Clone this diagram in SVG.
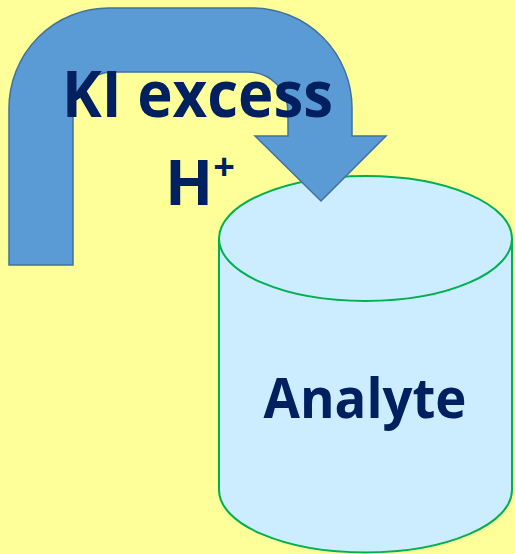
<svg xmlns="http://www.w3.org/2000/svg" width="515" height="554" viewBox="0 0 515 554">
<style>
.lbl{font-family:"Open Sans","Liberation Sans",sans-serif;font-weight:bold;fill:#002060}
</style>
<rect x="0" y="0" width="515" height="554" fill="#FFFF99"/>
<g id="analyte">
<path d="M219,238.5 L219,490 A146.5,62.5 0 0 0 512,490 L512,238.5" fill="#CCECFF" stroke="#00B050" stroke-width="2"/>
<ellipse cx="365.5" cy="238.5" rx="146.5" ry="62.5" fill="#CCECFF" stroke="#00B050" stroke-width="2"/>
<text class="lbl" x="365" y="418" font-size="56" text-anchor="middle" textLength="203" lengthAdjust="spacingAndGlyphs">Analyte</text>
</g>
<g id="connectors">
<path id="arrow" d="M9,265 L9,108 A100,100 0 0 1 109,8 L252,8 A100,100 0 0 1 352,108 L352,136 L386,136 L321,201 L255,136 L288,136 L288,112 A40,40 0 0 0 248,72 L113,72 A40,40 0 0 0 73,112 L73,265 Z" fill="#5B9BD5" stroke="#41719C" stroke-width="1.5"/>
</g>
<g id="reagent">
<text class="lbl" x="62" y="117" font-size="64" textLength="271" lengthAdjust="spacingAndGlyphs">KI excess</text>
<text class="lbl" x="165" y="205" font-size="63">H<tspan font-size="38" dy="-25">+</tspan></text>
</g>
</svg>
